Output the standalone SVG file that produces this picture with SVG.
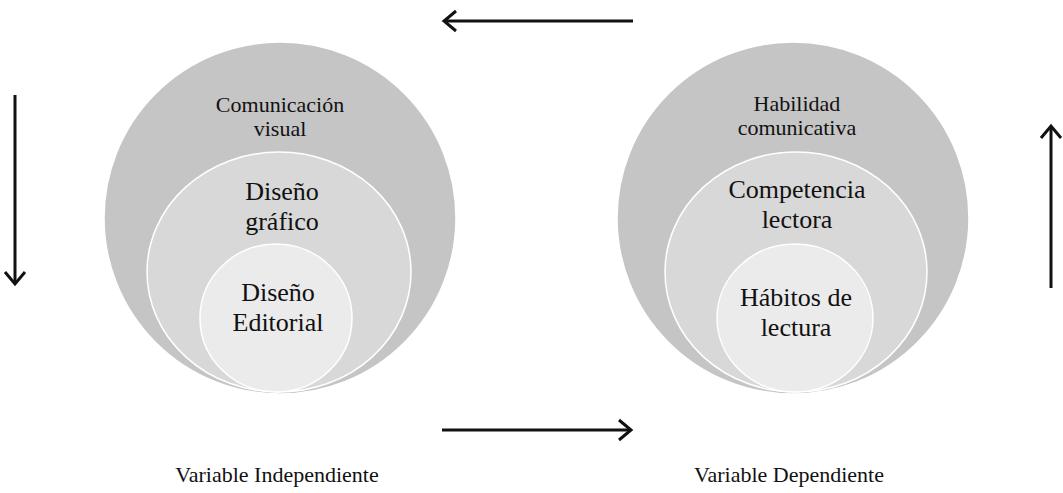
<svg xmlns="http://www.w3.org/2000/svg" width="1063" height="493" viewBox="0 0 1063 493">
<defs>
<style>
.c1{fill:#c5c5c5;stroke:#ffffff;stroke-width:1.5}
.c2{fill:#d8d8d8;stroke:#ffffff;stroke-width:1.5}
.c3{fill:#ebebeb;stroke:#ffffff;stroke-width:1.5}
text{font-family:"Liberation Serif","Times New Roman",serif;fill:#111111;text-anchor:middle}
.t1{font-size:22px}
.t2{font-size:26px}
.lab{font-size:22px}
.arr{stroke:#111;stroke-width:3;fill:none;stroke-linecap:butt}
.head{stroke:#111;stroke-width:3;fill:none;stroke-linejoin:miter}
</style>
</defs>
<rect width="1063" height="493" fill="#ffffff"/>
<g id="independiente">
<g id="comunicacion-visual">
<circle class="c1" cx="280" cy="218" r="176"/>
<text class="t1" x="280" y="112">Comunicación</text>
<text class="t1" x="280" y="136">visual</text>
</g>
<g id="diseno-grafico">
<ellipse class="c2" cx="279" cy="272" rx="132" ry="120"/>
<text class="t2" x="282" y="200">Diseño</text>
<text class="t2" x="282" y="230">gráfico</text>
</g>
<g id="diseno-editorial">
<ellipse class="c3" cx="276" cy="318" rx="76" ry="74"/>
<text class="t2" x="278" y="301">Diseño</text>
<text class="t2" x="278" y="331">Editorial</text>
</g>
<text id="label-independiente" class="lab" x="277" y="482">Variable Independiente</text>
</g>
<g id="dependiente">
<g id="habilidad-comunicativa">
<circle class="c1" cx="793" cy="218" r="176"/>
<text class="t1" x="797" y="111">Habilidad</text>
<text class="t1" x="797" y="135">comunicativa</text>
</g>
<g id="competencia-lectora">
<ellipse class="c2" cx="796" cy="272" rx="131" ry="120"/>
<text class="t2" x="797" y="198">Competencia</text>
<text class="t2" x="797" y="228">lectora</text>
</g>
<g id="habitos-lectura">
<ellipse class="c3" cx="795" cy="318" rx="78" ry="74"/>
<text class="t2" x="796" y="306">Hábitos de</text>
<text class="t2" x="796" y="336">lectura</text>
</g>
<text id="label-dependiente" class="lab" x="789" y="482">Variable Dependiente</text>
</g>
<g id="connectors">
<line class="arr" x1="633" y1="21" x2="444" y2="21"/>
<polyline class="head" points="456,11 444,21 456,31"/>
<line class="arr" x1="15" y1="95" x2="15" y2="284"/>
<polyline class="head" points="5,272 15,284 25,272"/>
<line class="arr" x1="1051" y1="288" x2="1051" y2="126"/>
<polyline class="head" points="1041,138 1051,126 1061,138"/>
<line class="arr" x1="442" y1="430" x2="631" y2="430"/>
<polyline class="head" points="619,420 631,430 619,440"/>
</g>
</svg>
